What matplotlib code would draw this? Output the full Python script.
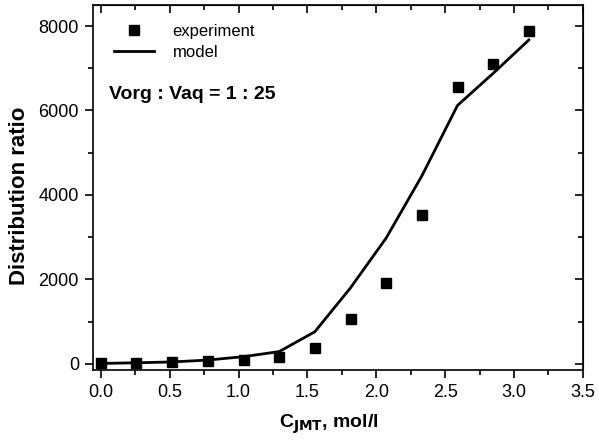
import matplotlib
matplotlib.use("Agg")
import matplotlib.pyplot as plt
from matplotlib.ticker import MultipleLocator

plt.rcParams['font.family'] = ['Liberation Sans', 'DejaVu Sans']

conc = [0.0, 0.259, 0.518, 0.777, 1.036, 1.295, 1.554, 1.813, 2.072, 2.331, 2.590, 2.849, 3.108]
experiment = [10, 20, 35, 60, 95, 166, 387, 1055, 1920, 3530, 6565, 7110, 7885]
model = [10, 25, 45, 90, 170, 290, 760, 1800, 2980, 4450, 6120, 6880, 7670]

fig = plt.figure(figsize=(5.99, 4.46), dpi=100)
ax = fig.add_axes([0.155, 0.170, 0.818, 0.819])

ax.plot(conc, model, color='black', lw=2.0, label='model', zorder=2)
ax.plot(conc, experiment, ls='none', marker='s', ms=7.5, color='black',
        label='experiment', zorder=3)

ax.set_xlim(-0.058, 3.5)
ax.set_ylim(-150, 8500)
ax.xaxis.set_major_locator(MultipleLocator(0.5))
ax.xaxis.set_minor_locator(MultipleLocator(0.25))
ax.yaxis.set_major_locator(MultipleLocator(2000))
ax.yaxis.set_minor_locator(MultipleLocator(1000))
ax.set_xticks([0.0, 0.5, 1.0, 1.5, 2.0, 2.5, 3.0, 3.5])
ax.set_xticklabels(['0.0', '0.5', '1.0', '1.5', '2.0', '2.5', '3.0', '3.5'])

for s in ax.spines.values():
    s.set_linewidth(1.2)

ax.tick_params(which='major', direction='out', length=6, width=1.2,
               labelsize=13, top=False, right=False, pad=4)
ax.tick_params(which='minor', direction='out', length=3.5, width=1.2,
               top=False, right=False)
ax2 = ax.secondary_yaxis('right')
ax2.yaxis.set_major_locator(MultipleLocator(2000))
ax2.yaxis.set_minor_locator(MultipleLocator(1000))
ax2.tick_params(which='major', direction='in', length=6, width=1.2, labelright=False)
ax2.tick_params(which='minor', direction='in', length=3.5, width=1.2)
ax3 = ax.secondary_xaxis('top')
ax3.xaxis.set_major_locator(MultipleLocator(0.5))
ax3.xaxis.set_minor_locator(MultipleLocator(0.25))
ax3.tick_params(which='major', direction='in', length=6, width=1.2, labeltop=False)
ax3.tick_params(which='minor', direction='in', length=3.5, width=1.2)

ax.set_xlabel(r'C$_{\mathbf{JMT}}$, mol/l', fontsize=14, fontweight='bold', labelpad=8)
ax.xaxis.label.set_x(0.482)
ax.set_ylabel('Distribution ratio', fontsize=16, fontweight='bold', labelpad=6)
ax.yaxis.label.set_y(0.477)

handles, labels = ax.get_legend_handles_labels()
leg = ax.legend(handles[::-1], labels[::-1], loc='upper left', frameon=False,
                prop={'size': 12}, bbox_to_anchor=(0.03, 0.967), handlelength=2.4,
                handletextpad=1.1, labelspacing=0.37, borderaxespad=0.0)

ax.text(0.033, 0.755, 'Vorg : Vaq = 1 : 25', transform=ax.transAxes,
        fontsize=14, fontweight='bold', va='center', ha='left')

fig.savefig('out.png', dpi=100)
